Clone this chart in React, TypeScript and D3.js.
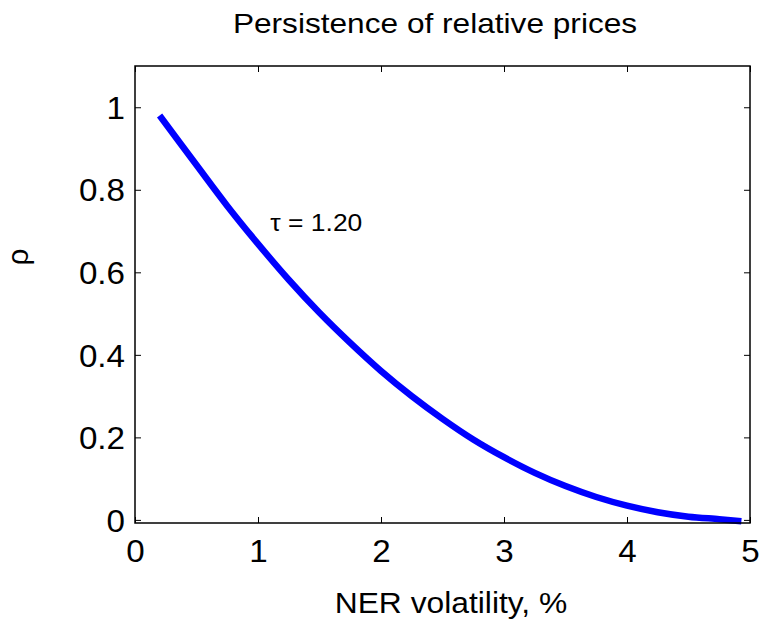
import React, { useRef, useEffect } from "react";
import * as d3 from "d3";

// NER volatility (%) and persistence rho
const volatility = [0.2, 0.5, 0.75, 1.0, 1.25, 1.5, 1.75, 2.0, 2.25, 2.5, 2.75, 3.0, 3.25, 3.5, 3.75, 4.0, 4.25, 4.5, 4.75, 4.93];
const rho = [0.98, 0.86, 0.761, 0.669, 0.582, 0.502, 0.429, 0.361, 0.3, 0.245, 0.195, 0.152, 0.114, 0.082, 0.0555, 0.0345, 0.0186, 0.0078, 0.0018, -0.003];

const xTicks = [0, 1, 2, 3, 4, 5];
const yTicks = [0, 0.2, 0.4, 0.6, 0.8, 1];

const title = "Persistence of relative prices";
const xLabel = "NER volatility, %";
const yLabel = "ρ";
const annotation = "τ = 1.20";
const annotationAt = { x: 1.1, y: 0.7 };

const W = 764;
const H = 623;
const FONT = "'Liberation Sans', Arial, Helvetica, sans-serif";

const App: React.FC = () => {
  const svgRef = useRef<SVGSVGElement>(null);

  useEffect(() => {
    if (!svgRef.current) return;
    const svg = d3.select(svgRef.current);
    svg.selectAll("*").remove();

    // plot box in pixels
    const left = 135, right = 750, top = 66, bottom = 523;

    const x = d3.scaleLinear().domain([0, 5]).range([left, right]);
    const y = d3.scaleLinear().domain([-0.0075, 1.1]).range([bottom, top]);

    svg.append("rect").attr("width", W).attr("height", H).attr("fill", "white");

    // curve
    const pts = volatility.map((v, i) => [v, rho[i]] as [number, number]);
    const line = d3
      .line<[number, number]>()
      .x((d) => x(d[0]))
      .y((d) => y(d[1]))
      .curve(d3.curveCatmullRom.alpha(0.5));

    svg
      .append("path")
      .datum(pts)
      .attr("d", line)
      .attr("fill", "none")
      .attr("stroke", "#0000ff")
      .attr("stroke-width", 6.5)
      .attr("stroke-linecap", "butt");

    // the reference text is a bit wider than Arial, stretch it horizontally
    const tickSx = 1.07;

    // axes: ticks point inward on all four sides
    const bottomAx = svg
      .append("g")
      .attr("transform", `translate(0,${bottom})`)
      .call(
        d3.axisBottom(x).tickValues(xTicks).tickSizeInner(-6).tickSizeOuter(0).tickFormat(d3.format("d") as any)
      );
    bottomAx
      .selectAll("text")
      .attr("y", 39)
      .attr("dy", 0)
      .attr("transform", `scale(${tickSx},1)`)
      .style("font-size", "31px")
      .style("font-family", FONT)
      .attr("fill", "black");

    svg
      .append("g")
      .attr("transform", `translate(0,${top})`)
      .call(d3.axisTop(x).tickValues(xTicks).tickSizeInner(-6).tickSizeOuter(0).tickFormat(() => ""));

    const leftAx = svg
      .append("g")
      .attr("transform", `translate(${left},0)`)
      .call(
        d3.axisLeft(y).tickValues(yTicks).tickSizeInner(-6).tickSizeOuter(0).tickFormat(d3.format(".1~f") as any)
      );
    leftAx
      .selectAll("text")
      .attr("x", -10 / tickSx)
      .attr("dy", "0.36em")
      .attr("transform", `scale(${tickSx},1)`)
      .style("font-size", "31px")
      .style("font-family", FONT)
      .attr("fill", "black");

    svg
      .append("g")
      .attr("transform", `translate(${right},0)`)
      .call(d3.axisRight(y).tickValues(yTicks).tickSizeInner(-6).tickSizeOuter(0).tickFormat(() => ""));

    svg.selectAll(".domain").remove();
    svg.selectAll(".tick line").attr("stroke", "black").attr("stroke-width", 1);

    // box
    svg
      .append("rect")
      .attr("x", left)
      .attr("y", top)
      .attr("width", right - left)
      .attr("height", bottom - top)
      .attr("fill", "none")
      .attr("stroke", "black")
      .attr("stroke-width", 1.5);

    const label = (
      txt: string,
      tx: number,
      ty: number,
      size: number,
      sx: number,
      anchor: string,
      rotate = 0
    ) =>
      svg
        .append("text")
        .attr("transform", `translate(${tx},${ty}) rotate(${rotate}) scale(${sx},1)`)
        .attr("text-anchor", anchor)
        .style("font-family", FONT)
        .style("font-size", `${size}px`)
        .attr("fill", "black")
        .text(txt);

    label(title, 435, 33, 28, 1.13, "middle");
    label(xLabel, 451, 613, 30, 1.06, "middle");
    label(yLabel, 28, 257, 30, 1, "middle", -90);
    label(annotation, x(annotationAt.x), y(annotationAt.y), 23, 1.15, "start");
  }, []);

  return (
    <svg
      ref={svgRef}
      width={W}
      height={H}
      style={{ position: "absolute", left: 0, top: 0, display: "block" }}
    />
  );
};

export default App;
